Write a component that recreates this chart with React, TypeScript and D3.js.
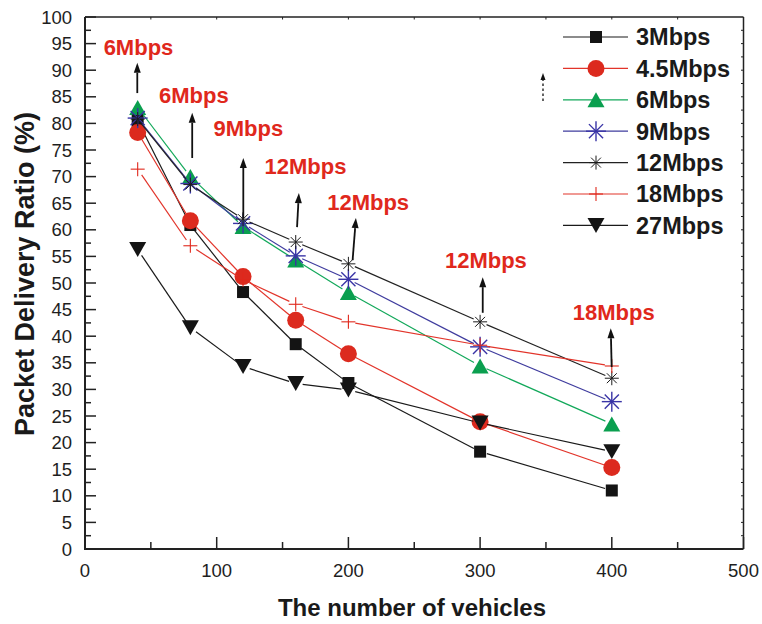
import React from "react";
import * as d3 from "d3";

// Number of vehicles on the road (x values shared by every series)
const vehicles = [40, 80, 120, 160, 200, 300, 400];

// Packet delivery ratio (%) for each fixed data rate
const rate3 = [80.5, 60.9, 48.3, 38.5, 31.2, 18.3, 11.0];
const rate45 = [78.3, 61.7, 51.2, 43.0, 36.7, 23.9, 15.3];
const rate6 = [83.0, 70.0, 60.6, 54.3, 48.2, 34.4, 23.5];
const rate9 = [81.0, 68.7, 61.2, 55.1, 50.7, 38.0, 27.7];
const rate12 = [80.8, 68.5, 62.0, 57.7, 53.6, 42.7, 32.1];
const rate18 = [71.4, 57.0, 50.6, 46.0, 42.7, 38.3, 34.4];
const rate27 = [56.3, 41.6, 34.3, 31.1, 29.9, 23.7, 18.3];

const seriesNames = ["3Mbps", "4.5Mbps", "6Mbps", "9Mbps", "12Mbps", "18Mbps", "27Mbps"];
const seriesValues = [rate3, rate45, rate6, rate9, rate12, rate18, rate27];

// Axis ticks
const xTickValues = [0, 100, 200, 300, 400, 500];
const xMinorValues = [50, 150, 250, 350, 450];
const yTickValues = [0, 5, 10, 15, 20, 25, 30, 35, 40, 45, 50, 55, 60, 65, 70, 75, 80, 85, 90, 95, 100];

// Best-rate annotations (vehicles, %)
const noteLabels = ["6Mbps", "6Mbps", "9Mbps", "12Mbps", "12Mbps", "12Mbps", "18Mbps"];
const noteTextX = [40.6, 82.7, 124, 167.4, 215, 304.4, 401.5];
const noteTextY = [92.9, 83.8, 77.6, 70.5, 63.7, 52.8, 43.0];
const arrowBaseX = [39.7, 81.4, 120.2, 161, 203.2, 302, 399.9];
const arrowTipX = [39.7, 81.4, 120.2, 162.4, 205.7, 302, 399.2];
const arrowBaseY = [85.7, 73.5, 62.2, 60.5, 54.3, 44.4, 34.2];
const arrowTipY = [91.4, 82.0, 73.5, 66.9, 62.2, 51.1, 41.5];

type MarkerKind = "square" | "circle" | "tri" | "star" | "plus" | "tridown";

const styles: { line: string; fill: string; kind: MarkerKind; size: number; sw: number }[] = [
  { line: "#1a1a1a", fill: "#141414", kind: "square", size: 12, sw: 1 },
  { line: "#e2342a", fill: "#dc2a1e", kind: "circle", size: 17, sw: 1 },
  { line: "#12a85a", fill: "#0a9f4f", kind: "tri", size: 17, sw: 1 },
  { line: "#3f3c9e", fill: "#3934a6", kind: "star", size: 20, sw: 1.4 },
  { line: "#222222", fill: "#1c1c1c", kind: "star", size: 14, sw: 1 },
  { line: "#e2342a", fill: "#e0281c", kind: "plus", size: 14, sw: 1.1 },
  { line: "#1a1a1a", fill: "#141414", kind: "tridown", size: 17, sw: 1 },
];

function Marker({ kind, cx, cy, size, color, sw }: { kind: MarkerKind; cx: number; cy: number; size: number; color: string; sw: number }) {
  const h = size / 2;
  if (kind === "square") return <rect x={cx - h} y={cy - h} width={size} height={size} fill={color} />;
  if (kind === "circle") return <circle cx={cx} cy={cy} r={h} fill={color} />;
  if (kind === "tri") {
    const th = size * 0.88 / 2;
    return <polygon points={`${cx},${cy - th} ${cx + h},${cy + th} ${cx - h},${cy + th}`} fill={color} />;
  }
  if (kind === "tridown") {
    const th = size * 0.88 / 2;
    return <polygon points={`${cx - h},${cy - th} ${cx + h},${cy - th} ${cx},${cy + th}`} fill={color} />;
  }
  if (kind === "plus") {
    return (
      <g stroke={color} strokeWidth={sw}>
        <line x1={cx - h} y1={cy} x2={cx + h} y2={cy} />
        <line x1={cx} y1={cy - h} x2={cx} y2={cy + h} />
      </g>
    );
  }
  const d = h * Math.SQRT1_2;
  return (
    <g stroke={color} strokeWidth={sw}>
      <line x1={cx - h} y1={cy} x2={cx + h} y2={cy} />
      <line x1={cx} y1={cy - h} x2={cx} y2={cy + h} />
      <line x1={cx - d} y1={cy - d} x2={cx + d} y2={cy + d} />
      <line x1={cx - d} y1={cy + d} x2={cx + d} y2={cy - d} />
    </g>
  );
}

function Arrow({ x1, y1, x2, y2, dashed }: { x1: number; y1: number; x2: number; y2: number; dashed?: boolean }) {
  const ang = Math.atan2(y2 - y1, x2 - x1);
  const hl = dashed ? 7 : 10;
  const hw = dashed ? 2.5 : 3.5;
  const bx = x2 - hl * Math.cos(ang);
  const by = y2 - hl * Math.sin(ang);
  const px = -Math.sin(ang) * hw;
  const py = Math.cos(ang) * hw;
  return (
    <g>
      <line x1={x1} y1={y1} x2={bx} y2={by} stroke="#111" strokeWidth={dashed ? 1.3 : 1.8} strokeDasharray={dashed ? "2.5 2.5" : undefined} />
      <polygon points={`${x2},${y2} ${bx + px},${by + py} ${bx - px},${by - py}`} fill="#111" />
    </g>
  );
}

export default function App() {
  const left = 85, right = 743.5, top = 17, bottom = 549;
  const x = d3.scaleLinear().domain([0, 500]).range([left, right]);
  const y = d3.scaleLinear().domain([0, 100]).range([bottom, top]);
  const yMinor = d3.range(2.5, 100, 5);
  const rightMinor = d3.range(2.5, 100, 2.5);
  const topMinor = d3.range(50, 500, 50);
  const axisColor = "#222";
  const font = "'Liberation Sans', Arial, Helvetica, sans-serif";
  const gap = 7;

  const segments = (vals: number[]) => {
    const pts = vehicles.map((v, i) => [x(v), y(vals[i])]);
    const out: string[] = [];
    for (let i = 0; i < pts.length - 1; i++) {
      const [ax, ay] = pts[i];
      const [bx, by] = pts[i + 1];
      const len = Math.hypot(bx - ax, by - ay);
      const ux = (bx - ax) / len, uy = (by - ay) / len;
      const line = d3.line()([
        [ax + ux * gap, ay + uy * gap],
        [bx - ux * gap, by - uy * gap],
      ]);
      if (line) out.push(line);
    }
    return out;
  };

  const legendX = 563, legendY = 37, legendStep = 31.4;

  return (
    <svg width={762} height={624} style={{ position: "absolute", left: 0, top: 0, background: "#fff" }} fontFamily={font}>
      <rect width={762} height={624} fill="#fff" />

      {/* frame */}
      <line x1={left} y1={top} x2={right} y2={top} stroke={axisColor} strokeWidth={1.5} />
      <line x1={right} y1={top} x2={right} y2={bottom} stroke={axisColor} strokeWidth={1.5} />
      <line x1={left} y1={top} x2={left} y2={bottom + 1} stroke={axisColor} strokeWidth={2} />
      <line x1={left - 1} y1={bottom} x2={right} y2={bottom} stroke={axisColor} strokeWidth={2} />

      {/* left axis ticks and labels */}
      {yTickValues.map((v) => (
        <g key={"y" + v}>
          <line x1={left} y1={y(v)} x2={left + 11} y2={y(v)} stroke={axisColor} strokeWidth={1.5} />
          <text x={72} y={y(v)} dy="0.36em" textAnchor="end" fontSize={18.5} fill="#1e1e1e">{v}</text>
        </g>
      ))}
      {yMinor.map((v) => (
        <line key={"ym" + v} x1={left} y1={y(v)} x2={left + 6} y2={y(v)} stroke={axisColor} strokeWidth={1.5} />
      ))}
      {rightMinor.map((v) => (
        <line key={"yr" + v} x1={right} y1={y(v)} x2={right - 2.5} y2={y(v)} stroke={axisColor} strokeWidth={1} />
      ))}

      {/* bottom axis */}
      {xTickValues.map((v) => (
        <g key={"x" + v}>
          <line x1={x(v)} y1={bottom} x2={x(v)} y2={bottom - 12} stroke={axisColor} strokeWidth={1.5} />
          <text x={x(v)} y={577} textAnchor="middle" fontSize={18.5} fill="#1e1e1e">{v}</text>
        </g>
      ))}
      {xMinorValues.map((v) => (
        <line key={"xm" + v} x1={x(v)} y1={bottom} x2={x(v)} y2={bottom - 7} stroke={axisColor} strokeWidth={1.5} />
      ))}
      {topMinor.map((v) => (
        <line key={"xt" + v} x1={x(v)} y1={top} x2={x(v)} y2={top + 2.5} stroke={axisColor} strokeWidth={1} />
      ))}

      {/* axis titles */}
      <text x={412} y={616} textAnchor="middle" fontSize={24} fontWeight="bold" fill="#1a1a1a">The number of vehicles</text>
      <text transform={`translate(34, 274) rotate(-90)`} textAnchor="middle" fontSize={27} fontWeight="bold" fill="#1a1a1a">
        Packet Delivery Ratio (%)
      </text>

      {/* series */}
      {seriesValues.map((vals, si) => {
        const st = styles[si];
        return (
          <g key={seriesNames[si]}>
            {segments(vals).map((d, k) => (
              <path key={k} d={d} fill="none" stroke={st.line} strokeWidth={1.2} />
            ))}
            {vals.map((v, i) => (
              <Marker key={i} kind={st.kind} cx={x(vehicles[i])} cy={y(v)} size={st.size} color={st.fill} sw={st.sw} />
            ))}
          </g>
        );
      })}

      {/* annotations */}
      {noteLabels.map((lab, i) => (
        <g key={"n" + i}>
          <Arrow x1={x(arrowBaseX[i])} y1={y(arrowBaseY[i])} x2={x(arrowTipX[i])} y2={y(arrowTipY[i])} />
          <text x={x(noteTextX[i])} y={y(noteTextY[i])} textAnchor="middle" fontSize={22} fontWeight="bold" fill="#e0281c">{lab}</text>
        </g>
      ))}

      {/* legend */}
      {seriesNames.map((name, i) => {
        const st = styles[i];
        const ry = legendY + i * legendStep;
        return (
          <g key={"lg" + name}>
            <line x1={legendX} y1={ry} x2={legendX + 65} y2={ry} stroke={st.line} strokeWidth={1.2} />
            <Marker kind={st.kind} cx={legendX + 33} cy={ry} size={st.size} color={st.fill} sw={st.sw} />
            <text x={legendX + 73} y={ry} dy="0.36em" fontSize={23.5} fontWeight="bold" fill="#1a1a1a">{name}</text>
          </g>
        );
      })}
      <Arrow x1={543} y1={101} x2={543} y2={73} dashed />
    </svg>
  );
}
